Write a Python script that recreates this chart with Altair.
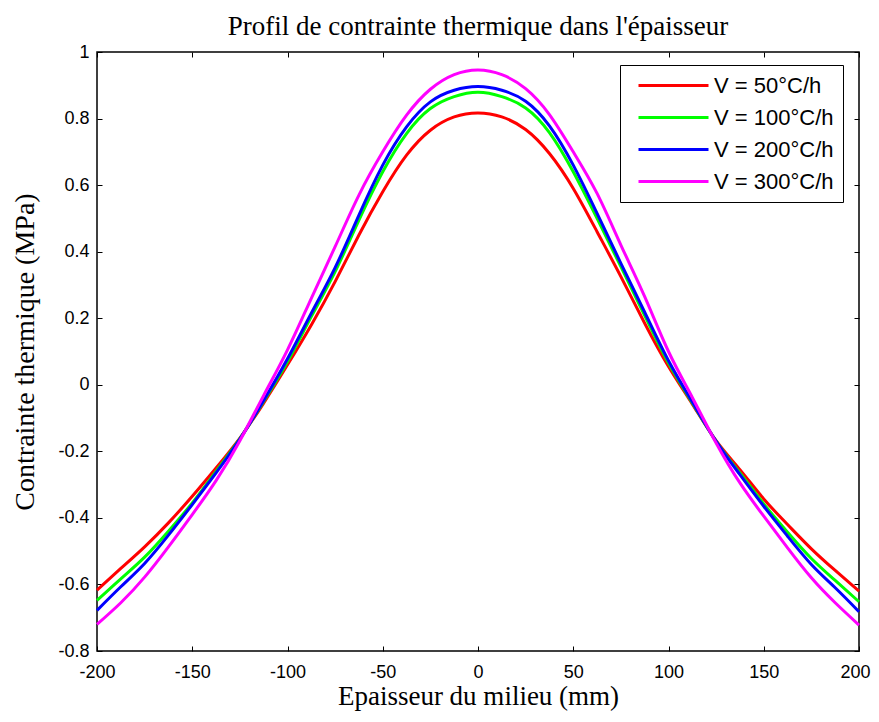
import altair as alt
import pandas as pd

# x positions (mm)
x_mm = [-200, -187.5, -175, -162.5, -150, -137.5, -125, -112.5, -100, -87.5, -75, -62.5, -50, -37.5, -25, -12.5,
        0, 12.5, 25, 37.5, 50, 62.5, 75, 87.5, 100, 112.5, 125, 137.5, 150, 162.5, 175, 187.5, 200]

v50 = [-0.617, -0.552, -0.487, -0.415, -0.335, -0.250, -0.160, -0.055, 0.060, 0.180, 0.310, 0.450, 0.580, 0.690, 0.765, 0.805,
       0.817, 0.805, 0.767, 0.695, 0.590, 0.460, 0.325, 0.185, 0.055, -0.058, -0.168, -0.255, -0.343, -0.420, -0.493, -0.558, -0.620]
v100 = [-0.648, -0.583, -0.518, -0.440, -0.355, -0.260, -0.162, -0.050, 0.070, 0.205, 0.340, 0.495, 0.640, 0.755, 0.830, 0.866,
        0.879, 0.866, 0.832, 0.758, 0.640, 0.500, 0.355, 0.208, 0.065, -0.055, -0.170, -0.265, -0.358, -0.443, -0.522, -0.588, -0.652]
v200 = [-0.678, -0.607, -0.537, -0.452, -0.360, -0.265, -0.163, -0.047, 0.078, 0.215, 0.352, 0.510, 0.660, 0.775, 0.850, 0.885,
        0.896, 0.885, 0.852, 0.778, 0.660, 0.515, 0.365, 0.218, 0.072, -0.052, -0.170, -0.270, -0.365, -0.455, -0.540, -0.610, -0.682]
v300 = [-0.720, -0.655, -0.578, -0.487, -0.390, -0.288, -0.168, -0.032, 0.105, 0.260, 0.415, 0.570, 0.700, 0.810, 0.888, 0.932,
        0.946, 0.932, 0.890, 0.812, 0.700, 0.575, 0.420, 0.265, 0.100, -0.038, -0.175, -0.295, -0.395, -0.490, -0.580, -0.655, -0.722]

series_names = ["V = 50°C/h", "V = 100°C/h", "V = 200°C/h", "V = 300°C/h"]
series_colors = ["#ff0000", "#00ff00", "#0000ff", "#ff00ff"]
series_values = [v50, v100, v200, v300]

x_ticks = [-200, -150, -100, -50, 0, 50, 100, 150, 200]
y_ticks = [-0.8, -0.6, -0.4, -0.2, 0, 0.2, 0.4, 0.6, 0.8, 1]

rows = []
for name, vals in zip(series_names, series_values):
    for xv, yv in zip(x_mm, vals):
        rows.append({"x": xv, "y": yv, "serie": name})
df = pd.DataFrame(rows)

SANS = "Liberation Sans"
SERIF = "Liberation Serif"
HYPHEN = "replace(datum.label, '\u2212', '-')"

xscale = alt.Scale(domain=[-200, 200], nice=False, zero=False)
yscale = alt.Scale(domain=[-0.8, 1.0], nice=False, zero=False)

base = alt.Chart(df)

lines = base.mark_line(strokeWidth=3, interpolate="natural").encode(
    x=alt.X("x:Q", scale=xscale,
            axis=alt.Axis(values=x_ticks, title="Epaisseur du milieu (mm)", orient="bottom",
                          ticks=False, domain=False, grid=False, labelPadding=12,
                          labelFont=SANS, labelFontSize=18, labelColor="black", labelExpr=HYPHEN,
                          labelOffset={"expr": "datum.value == 200 ? -4 : 0"},
                          format="d",
                          titleFont=SERIF, titleFontSize=27, titleFontWeight="normal",
                          titleColor="black", titlePadding=2, labelFlush=False)),
    y=alt.Y("y:Q", scale=yscale,
            axis=alt.Axis(values=y_ticks, title="Contrainte thermique (MPa)", orient="left",
                          ticks=False, domain=False, grid=False, labelPadding=8,
                          labelFont=SANS, labelFontSize=18, labelColor="black", labelExpr=HYPHEN,
                          format="~g",
                          titleFont=SERIF, titleFontSize=28, titleFontWeight="normal",
                          titleColor="black", titlePadding=18, labelFlush=False)),
    color=alt.Color("serie:N", sort=series_names,
                    scale=alt.Scale(domain=series_names, range=series_colors),
                    legend=alt.Legend(title=None, orient="none", legendX=523, legendY=13,
                                      symbolType="M-0.2,0H6.8", symbolSize=400, symbolStrokeWidth=3,
                                      labelFont=SANS, labelFontSize=22, labelColor="black",
                                      strokeColor="black", fillColor="white", padding=9,
                                      labelOffset=62, rowPadding=9)),
)

tick_style = dict(labels=False, domain=False, grid=False, title=None, tickSize=5,
                  tickColor="black", tickWidth=1, offset=-5)

ticks_top_right = base.mark_point(opacity=0).encode(
    x=alt.X("x:Q", scale=xscale, axis=alt.Axis(values=x_ticks, orient="top", **tick_style)),
    y=alt.Y("y:Q", scale=yscale, axis=alt.Axis(values=y_ticks, orient="right", **tick_style)),
)
ticks_bottom_left = base.mark_point(opacity=0).encode(
    x=alt.X("x:Q", scale=xscale, axis=alt.Axis(values=x_ticks, orient="bottom", **tick_style)),
    y=alt.Y("y:Q", scale=yscale, axis=alt.Axis(values=y_ticks, orient="left", **tick_style)),
)

chart = alt.layer(lines, ticks_top_right, ticks_bottom_left).resolve_axis(
    x="independent", y="independent"
).properties(
    width=762, height=599,
    title=alt.TitleParams("Profil de contrainte thermique dans l'épaisseur", font=SERIF, fontSize=27,
                          fontWeight="normal", color="black", anchor="middle", frame="group",
                          baseline="alphabetic", offset=-19),
    autosize=alt.AutoSizeParams(type="none"),
    padding={"left": 89, "top": 44, "right": 12, "bottom": 60},
    background="white",
).configure_view(stroke="black", strokeWidth=1.5)

chart.save("out.html", embed_options={"renderer": "svg", "actions": False})
